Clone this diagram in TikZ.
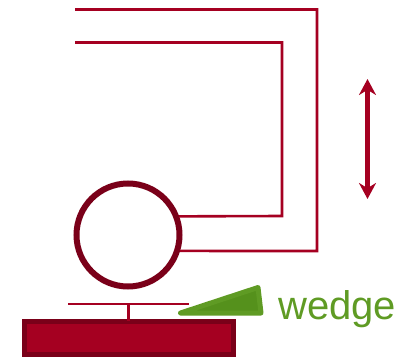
\documentclass[tikz,border=0pt]{standalone}
\usepackage{xcolor}
\usepackage{fontspec}
\usepackage{tikz}
\usetikzlibrary{arrows.meta}
\setmainfont{Liberation Sans}
\definecolor{redline}{HTML}{A50021}
\definecolor{darkred}{HTML}{7A0019}
\definecolor{wedgefill}{HTML}{55911C}
\definecolor{wedgeedge}{HTML}{5F9B24}

\begin{document}
\begin{tikzpicture}[x=1pt,y=-1pt,
  wire/.style={draw=redline,line width=2.6pt},
  travel/.style={draw=redline,line width=5.5pt,{Stealth[width=17pt,length=16pt]}-{Stealth[width=17pt,length=16pt]}},
  wheel/.style={circle,draw=darkred,line width=6pt,fill=white,inner sep=0pt,minimum size=103pt},
  table/.style={rectangle,draw=darkred,line width=5pt,fill=redline,inner sep=0pt,minimum width=209pt,minimum height=33.6pt}]
  \useasboundingbox (0,0) rectangle (411,358);
  \node[wheel] (roller) at (128,235) {};
  \node[table] (base) at (128.7,338) {};
  \coordinate (outerend) at (75,9.5);
  \coordinate (outercorner) at (317,9.5);
  \coordinate (outerlow) at (317,251);
  \coordinate (innerend) at (75,42.5);
  \coordinate (innercorner) at (282,42.5);
  \coordinate (innerlow) at (282,216);
  \coordinate (barleft) at (68,304);
  \coordinate (barright) at (189,304);
  \coordinate (barmid) at (128.7,304);
  \coordinate (arrowtop) at (367.5,79);
  \coordinate (arrowbottom) at (367.5,199);
  \draw[wire] (outerend) -- (outercorner) -- (outerlow) -- (roller.-17);
  \draw[wire] (innerend) -- (innercorner) -- (innerlow) -- (roller.20.4);
  \draw[wire] (barleft) -- (barright);
  \draw[wire,shorten >=-2pt] (barmid) -- (base.north);
  \draw[travel] (arrowtop) -- (arrowbottom);
  \draw[draw=wedgeedge,fill=wedgefill,line width=5pt,line join=round] (180.5,313) -- (258,287.5) -- (261,313) -- cycle;
  \node[anchor=base west,inner sep=0pt,text=wedgeedge,font=\fontsize{40}{40}\selectfont] (label) at (278,319) {wedge};
\end{tikzpicture}
\end{document}
